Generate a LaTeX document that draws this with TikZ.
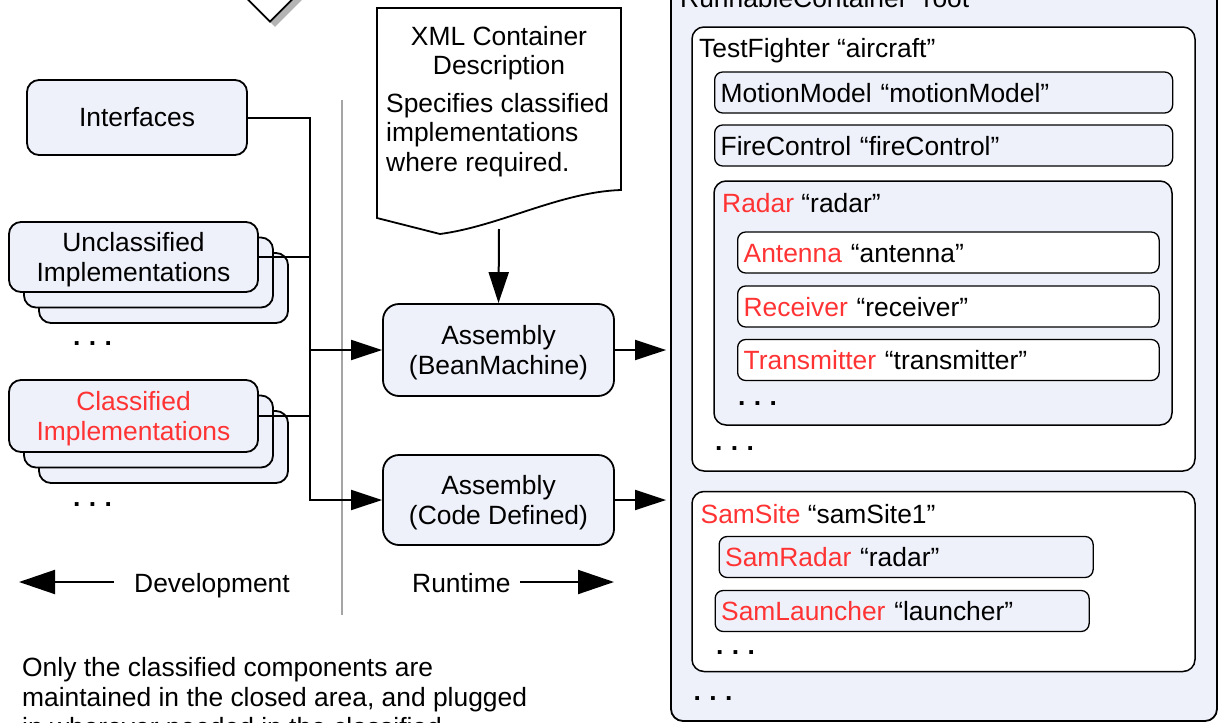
\documentclass[tikz,border=0pt]{standalone}
\usepackage{fontspec}
\setmainfont{Liberation Sans}
\usetikzlibrary{arrows.meta,shapes.geometric}
\definecolor{lav}{RGB}{238,241,250}
\definecolor{hot}{RGB}{255,51,51}
\definecolor{sepgray}{RGB}{165,165,165}
\definecolor{shade}{RGB}{180,180,180}
\newcommand{\dotrow}{\textbf{.}\hspace{8.4pt}\textbf{.}\hspace{8.4pt}\textbf{.}}

\begin{document}
\begin{tikzpicture}[x=1pt,y=-1pt,
  every node/.style={font=\fontsize{26.4}{30}\selectfont, inner sep=0pt},
  panel/.style={draw=black, line width=1.8pt, rounded corners=12pt, fill=lav},
  holder/.style={draw=black, line width=1.5pt, rounded corners=12pt},
  item/.style={draw=black, line width=1.3pt, rounded corners=8pt, minimum height=41pt,
    anchor=west, inner xsep=6pt, text height=19pt, text depth=0pt, align=left},
  boxtext/.style={align=center, yshift=-3pt},
  wire/.style={line width=2pt},
  flow/.style={line width=2pt, -{Triangle[length=31pt,width=20pt]}},
  big/.style={line width=2pt, -{Triangle[length=36pt,width=24pt]}},
  lbl/.style={anchor=base west}
]
\useasboundingbox (0,0) rectangle (1219,723);
\clip (0,0) rectangle (1219,723);

% diamond with its shadow, mostly above the top edge
\node[diamond, aspect=1, fill=shade, minimum width=120pt, minimum height=120pt] (topshade) at (275,-33) {};
\node[diamond, aspect=1, draw=black, line width=1.8pt, fill=white, minimum width=120pt, minimum height=120pt] (topshape) at (270,-38) {};

% development / runtime divider
\coordinate (sepTop) at (342,100);
\coordinate (sepBot) at (342,615);
\draw[sepgray, line width=2pt] (sepTop) -- (sepBot);

% development side
\node[panel, minimum width=220pt, minimum height=75pt] (iface) at (137,117.5) {Interfaces};

\node[panel, minimum width=249pt, minimum height=70pt] (unc3) at (163.5,288) {};
\node[panel, minimum width=249pt, minimum height=70pt] (unc2) at (148.5,272.5) {};
\node[panel, minimum width=249pt, minimum height=70pt] (unc1) at (133.5,257) {};
\node[boxtext] (unc1txt) at (unc1.center) {Unclassified\\Implementations};
\node[lbl] (uncdots) at (73,345) {\dotrow};

\node[panel, minimum width=249pt, minimum height=72pt] (cls3) at (163.5,447) {};
\node[panel, minimum width=249pt, minimum height=72pt] (cls2) at (148.5,431.5) {};
\node[panel, minimum width=249pt, minimum height=72pt] (cls1) at (133.5,416) {};
\node[boxtext, text=hot] (cls1txt) at (cls1.center) {Classified\\Implementations};
\node[lbl] (clsdots) at (73,506) {\dotrow};

% container description document
\draw[line width=1.8pt, fill=white] (377,8) -- (621,8) -- (621,190)
  .. controls (560,192) and (500,226) .. (440,234) -- (377,218) -- cycle;
\node[align=center, font=\fontsize{26.4}{29}\selectfont] (doctitle) at (499,53.5) {XML Container\\Description};
\node[align=left, anchor=west, font=\fontsize{26.4}{29.5}\selectfont] (docnote) at (386,135) {Specifies classified\\implementations\\where required.};
\coordinate (docbot) at (499,229);

% assemblers
\node[panel, rounded corners=16pt, minimum width=231pt, minimum height=92pt] (asm1) at (498.5,350) {};
\node[boxtext] (asm1txt) at (asm1.center) {Assembly\\(BeanMachine)};
\node[panel, rounded corners=16pt, minimum width=231pt, minimum height=90pt] (asm2) at (498.5,500) {};
\node[boxtext] (asm2txt) at (asm2.center) {Assembly\\(Code Defined)};

% runtime container tree
\node[panel, minimum width=546pt, minimum height=761pt] (root) at (944,340.5) {};
\node[lbl] (rootlbl) at (680,7) {RunnableContainer “root”};

\node[holder, fill=white, minimum width=503pt, minimum height=444pt] (tf) at (943.5,249) {};
\node[lbl] (tflbl) at (699,57) {TestFighter “aircraft”};
\node[item, fill=lav, text width=446pt] (mm) at (714,92.5) {MotionModel “motionModel”};
\node[item, fill=lav, text width=446pt] (fc) at (714,145.5) {FireControl “fireControl”};

\node[holder, fill=lav, minimum width=458pt, minimum height=244pt] (radar) at (943,303) {};
\node[lbl] (radarlbl) at (722,212) {\textcolor{hot}{Radar} “radar”};
\node[item, fill=white, text width=409.5pt] (ant) at (737,252.5) {\textcolor{hot}{Antenna} “antenna”};
\node[item, fill=white, text width=409.5pt] (rcv) at (737,306.5) {\textcolor{hot}{Receiver} “receiver”};
\node[item, fill=white, text width=409.5pt] (tx) at (737,360) {\textcolor{hot}{Transmitter} “transmitter”};
\node[lbl] (radardots) at (738,405) {\dotrow};
\node[lbl] (tfdots) at (715,450) {\dotrow};

\node[holder, fill=white, minimum width=503pt, minimum height=180pt] (sam) at (943.5,581.5) {};
\node[lbl] (samlbl) at (700.5,523) {\textcolor{hot}{SamSite} “samSite1”};
\node[item, fill=lav, text width=362pt] (samradar) at (718.5,557) {\textcolor{hot}{SamRadar} “radar”};
\node[item, fill=lav, text width=362pt] (samlaunch) at (714.5,611) {\textcolor{hot}{SamLauncher} “launcher”};
\node[lbl] (samdots) at (716,654) {\dotrow};
\node[lbl] (rootdots) at (693.5,700) {\dotrow};

% connectors
\coordinate (jb) at (310,500);
\draw[flow] (iface.east) -| (jb) -- (asm2.west);
\draw[wire] (unc1.east) -- (unc1.east -| jb);
\draw[wire] (cls1.east) -- (cls1.east -| jb);
\draw[flow] (asm1.west -| jb) -- (asm1.west);
\draw[flow] (docbot) -- (asm1.north);
\draw[flow, shorten >=4pt] (asm1.east) -- (asm1.east -| root.west);
\draw[flow, shorten >=4pt] (asm2.east) -- (asm2.east -| root.west);

% phase legend
\node[lbl] (devlbl) at (134,592) {Development};
\node[lbl] (runlbl) at (412,592) {Runtime};
\coordinate (devtail) at (114,582);
\coordinate (devtip) at (19,582);
\coordinate (runtail) at (520,582);
\coordinate (runtip) at (614,582);
\draw[big] (devtail) -- (devtip);
\draw[big] (runtail) -- (runtip);

% note
\node[align=left, anchor=west] (note) at (22,697.5) {Only the classified components are\\maintained in the closed area, and plugged\\in wherever needed in the classified};
\end{tikzpicture}
\end{document}
